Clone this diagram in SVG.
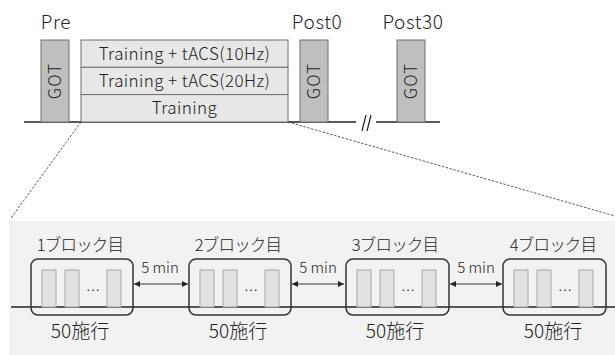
<svg xmlns="http://www.w3.org/2000/svg" width="615" height="355" viewBox="0 0 615 355">
<defs>
<style>
text{font-family:"Noto Sans CJK JP","Noto Sans",sans-serif;fill:#222;font-weight:300}
.got{fill:#bfbfbf;stroke:#707070;stroke-width:1}
.row{fill:#e7e7e7;stroke:#707070;stroke-width:1}
.lbl{font-size:17px;letter-spacing:0.4px}
.gl{font-size:17px;letter-spacing:1px}
.hd{font-size:19px;letter-spacing:0.6px}
.bt{font-size:16.5px;letter-spacing:-0.8px}
.nt{font-size:19px}
.mn{font-size:15px}
.dots{font-size:14px}
.blk{fill:none;stroke:#333;stroke-width:1.5}
.bar{fill:#e2e2e2;stroke:#a6a6a6;stroke-width:1}
.base{stroke:#222;stroke-width:1.5;fill:none}
.dash{stroke:#333;stroke-width:0.8;stroke-dasharray:2.5,1.5;fill:none}
.arr{stroke:#222;stroke-width:0.9;marker-start:url(#ah);marker-end:url(#ah)}
</style>
<marker id="ah" viewBox="0 0 10 10" refX="10" refY="5" markerWidth="6" markerHeight="6" orient="auto-start-reverse" markerUnits="userSpaceOnUse">
<path d="M0,0 L10,5 L0,10 z" fill="#222"/>
</marker>
</defs>
<rect x="9" y="221" width="606" height="134" fill="#f2f2f2"/>
<g id="connectors">
<line class="dash" x1="81" y1="122" x2="11" y2="218"/>
<line class="dash" x1="288" y1="122" x2="615" y2="216"/>
<line class="base" x1="24" y1="122" x2="356" y2="122"/>
<line class="base" x1="376" y1="122" x2="440" y2="122"/>
<path d="M362,131 L366,115 M367,131 L371,115" stroke="#222" stroke-width="1.2"/>
<line class="base" x1="11" y1="307" x2="615" y2="307"/>
<line class="arr" x1="134" y1="284" x2="188" y2="284"/>
<line class="arr" x1="292" y1="284" x2="344" y2="284"/>
<line class="arr" x1="450" y1="284" x2="502" y2="284"/>
</g>
<g id="pre">
<text class="hd" x="56" y="29" text-anchor="middle">Pre</text>
<rect class="got" x="41" y="40" width="28" height="82"/>
<text class="gl" transform="translate(61,81) rotate(-90)" text-anchor="middle">GOT</text>
</g>
<g id="training">
<rect class="row" x="81" y="40" width="207" height="27.3"/>
<rect class="row" x="81" y="67.3" width="207" height="27.3"/>
<rect class="row" x="81" y="94.6" width="207" height="27.4"/>
<text class="lbl" x="184.5" y="60" text-anchor="middle">Training + tACS(10Hz)</text>
<text class="lbl" x="184.5" y="87" text-anchor="middle">Training + tACS(20Hz)</text>
<text class="lbl" x="184.5" y="114" text-anchor="middle">Training</text>
</g>
<g id="post0">
<text class="hd" x="317" y="29" text-anchor="middle">Post0</text>
<rect class="got" x="300" y="40" width="28" height="82"/>
<text class="gl" transform="translate(320,81) rotate(-90)" text-anchor="middle">GOT</text>
</g>
<g id="post30">
<text class="hd" x="413" y="29" text-anchor="middle">Post30</text>
<rect class="got" x="397" y="40" width="28" height="82"/>
<text class="gl" transform="translate(417,81) rotate(-90)" text-anchor="middle">GOT</text>
</g>
<g id="block1">
<text class="bt" x="80" y="251" text-anchor="middle">1ブロック目</text>
<rect class="bar" x="42" y="270" width="14" height="37"/>
<rect class="bar" x="65" y="270" width="14" height="37"/>
<rect class="bar" x="107" y="270" width="14" height="37"/>
<text class="dots" x="93" y="295" text-anchor="middle">…</text>
<rect class="blk" x="31" y="259" width="102" height="56" rx="7"/>
<text class="nt" x="80" y="338" text-anchor="middle">50施行</text>
</g>
<g id="block2">
<text class="bt" x="238" y="251" text-anchor="middle">2ブロック目</text>
<rect class="bar" x="200" y="270" width="14" height="37"/>
<rect class="bar" x="223" y="270" width="14" height="37"/>
<rect class="bar" x="265" y="270" width="14" height="37"/>
<text class="dots" x="251" y="295" text-anchor="middle">…</text>
<rect class="blk" x="189" y="259" width="102" height="56" rx="7"/>
<text class="nt" x="238" y="338" text-anchor="middle">50施行</text>
</g>
<g id="block3">
<text class="bt" x="395" y="251" text-anchor="middle">3ブロック目</text>
<rect class="bar" x="357" y="270" width="14" height="37"/>
<rect class="bar" x="380" y="270" width="14" height="37"/>
<rect class="bar" x="422" y="270" width="14" height="37"/>
<text class="dots" x="408" y="295" text-anchor="middle">…</text>
<rect class="blk" x="346" y="259" width="103" height="56" rx="7"/>
<text class="nt" x="395" y="338" text-anchor="middle">50施行</text>
</g>
<g id="block4">
<text class="bt" x="553" y="251" text-anchor="middle">4ブロック目</text>
<rect class="bar" x="514" y="270" width="14" height="37"/>
<rect class="bar" x="537" y="270" width="14" height="37"/>
<rect class="bar" x="579" y="270" width="14" height="37"/>
<text class="dots" x="565" y="295" text-anchor="middle">…</text>
<rect class="blk" x="503" y="259" width="103" height="56" rx="7"/>
<text class="nt" x="553" y="338" text-anchor="middle">50施行</text>
</g>
<g id="gaps">
<text class="mn" x="160" y="273" text-anchor="middle">5 min</text>
<text class="mn" x="318" y="273" text-anchor="middle">5 min</text>
<text class="mn" x="476" y="273" text-anchor="middle">5 min</text>
</g>
</svg>
